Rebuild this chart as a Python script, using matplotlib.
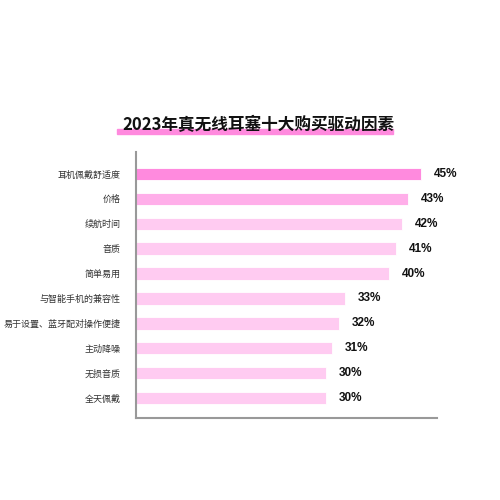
import matplotlib.pyplot as plt
from matplotlib.patches import Rectangle

plt.rcParams['font.family'] = ['Noto Sans CJK SC', 'DejaVu Sans']

factors = ['耳机佩戴舒适度', '价格', '续航时间', '音质', '简单易用',
           '与智能手机的兼容性', '易于设置、蓝牙配对操作便捷', '主动降噪', '无损音质', '全天佩戴']
shares = [45, 43, 42, 41, 40, 33, 32, 31, 30, 30]
colors = ['#ff8ade', '#ffaee9'] + ['#ffcbf1'] * 8

fig = plt.figure(figsize=(5, 5), dpi=100)
ax = fig.add_axes([0.272, 0.164, 0.602, 0.532])

pos = list(range(len(factors)))
ax.barh(pos, shares, height=0.5, color=colors, edgecolor='white', linewidth=0.6)
for p, v in zip(pos, shares):
    ax.text(v + 2.0, p, f'{v}%', va='center', ha='left', fontsize=8.5,
            fontweight='bold', color='#111111', family=['Liberation Sans', 'DejaVu Sans'])

ax.set_xlim(0, 47.5)
ax.set_ylim(9.8, -0.88)
ax.set_yticks(pos)
ax.set_yticklabels(factors, fontsize=6.5, color='#333333')
ax.set_xticks([])
ax.tick_params(axis='y', length=0, pad=11)
for s in ['top', 'right']:
    ax.spines[s].set_visible(False)
for s in ['left', 'bottom']:
    ax.spines[s].set_color('#999999')
    ax.spines[s].set_linewidth(1.5)

# pink highlight under the title
fig.patches.append(Rectangle((0.234, 0.732), 0.552, 0.011, transform=fig.transFigure,
                             color='#ff8ade', zorder=0))
fig.text(0.516, 0.75, '2023年真无线耳塞十大购买驱动因素', ha='center', va='center',
         fontsize=12, fontweight='bold', color='#111111', zorder=2)

fig.savefig('out.png', dpi=100, facecolor='white')
